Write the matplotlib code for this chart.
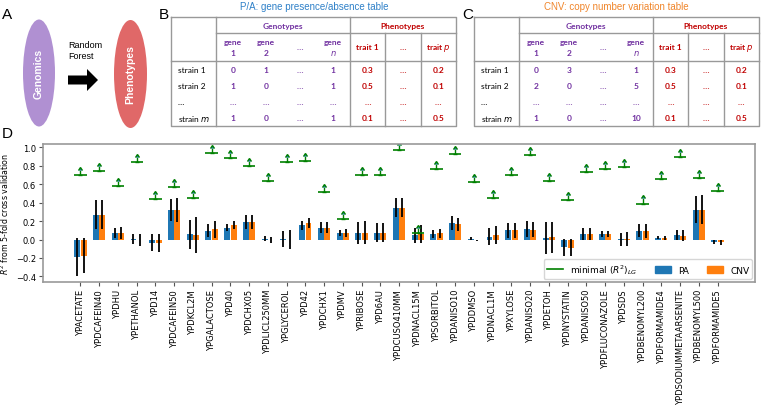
import numpy as np
import matplotlib.pyplot as plt
from matplotlib.patches import Ellipse, FancyArrow, Patch
from matplotlib.lines import Line2D

# ---- panel D data ----
conditions = ["YPACETATE", "YPDCAFEIN40", "YPDHU", "YPETHANOL", "YPD14", "YPDCAFEIN50",
              "YPDKCL2M", "YPGALACTOSE", "YPD40", "YPDCHX05", "YPDLICL250MM", "YPGLYCEROL",
              "YPD42", "YPDCHX1", "YPDMV", "YPRIBOSE", "YPD6AU", "YPDCUSO410MM", "YPDNACL15M",
              "YPSORBITOL", "YPDANISO10", "YPDDMSO", "YPDNACL1M", "YPXYLOSE", "YPDANISO20",
              "YPDETOH", "YPDNYSTATIN", "YPDANISO50", "YPDFLUCONAZOLE", "YPDSDS",
              "YPDBENOMYL200", "YPDFORMAMIDE4", "YPDSODIUMMETAARSENITE", "YPDBENOMYL500",
              "YPDFORMAMIDE5"]
lg_min = [0.70, 0.74, 0.575, 0.84, 0.44, 0.565, 0.45, 0.935, 0.88, 0.80,
          0.63, 0.835, 0.855, 0.515, 0.22, 0.70, 0.695, 0.97, 0.07, 0.765,
          0.93, 0.62, 0.45, 0.695, 0.92, 0.635, 0.43, 0.73, 0.765, 0.79,
          0.39, 0.66, 0.89, 0.67, 0.53]
pa_mean = [-0.19, 0.27, 0.07, 0.005, -0.035, 0.32, 0.055, 0.095, 0.13, 0.19,
           0.01, 0.005, 0.155, 0.13, 0.07, 0.075, 0.075, 0.345, 0.045, 0.058,
           0.18, 0.01, 0.03, 0.10, 0.115, 0.018, -0.085, 0.06, 0.06, 0.005,
           0.095, 0.02, 0.047, 0.325, -0.028]
pa_err = [0.21, 0.16, 0.05, 0.055, 0.09, 0.12, 0.155, 0.07, 0.04, 0.08,
          0.025, 0.085, 0.05, 0.06, 0.035, 0.12, 0.10, 0.10, 0.085, 0.045,
          0.08, 0.02, 0.09, 0.08, 0.085, 0.17, 0.09, 0.065, 0.03, 0.07,
          0.07, 0.015, 0.055, 0.15, 0.025]
cnv_mean = [-0.175, 0.27, 0.07, -0.005, -0.035, 0.32, 0.047, 0.11, 0.155, 0.19,
            -0.005, 0.0, 0.177, 0.13, 0.072, 0.075, 0.075, 0.345, 0.06, 0.068,
            0.165, -0.01, 0.05, 0.10, 0.108, 0.022, -0.087, 0.06, 0.06, 0.005,
            0.095, 0.02, 0.04, 0.325, -0.028]
cnv_err = [0.19, 0.16, 0.065, 0.06, 0.095, 0.125, 0.195, 0.09, 0.045, 0.075,
           0.03, 0.1, 0.055, 0.06, 0.045, 0.125, 0.105, 0.10, 0.1, 0.05,
           0.07, 0.01, 0.095, 0.08, 0.085, 0.165, 0.095, 0.06, 0.035, 0.08,
           0.075, 0.02, 0.06, 0.16, 0.027]

# ---- panel B / C table contents ----
gene_head = ["1", "2", "…", "$n$"]
trait_head = ["trait 1", "…", "trait $p$"]
row_labels = ["strain 1", "strain 2", "…", "strain $m$"]
pa_genes = [["0", "1", "…", "1"], ["1", "0", "…", "1"], ["…"] * 4, ["1", "0", "…", "1"]]
cnv_genes = [["0", "3", "…", "1"], ["2", "0", "…", "5"], ["…"] * 4, ["1", "0", "…", "10"]]
traits = [["0.3", "…", "0.2"], ["0.5", "…", "0.1"], ["…"] * 3, ["0.1", "…", "0.5"]]

PURPLE = "#7030a0"
RED = "#c00000"
TFONT = "Lato"
TS = 6

fig = plt.figure(figsize=(7.61, 4.10), dpi=100)

# overlay in pixel coordinates for panels A-C
ov = fig.add_axes([0, 0, 1, 1])
ov.set_xlim(0, 761)
ov.set_ylim(410, 0)
ov.axis("off")

for lab, (lx, ly) in zip("ABCD", [(2, 8), (159, 8), (462, 8), (2, 127)]):
    ov.text(lx, ly, lab, fontsize=11, family="Liberation Sans", va="top", ha="left")

# panel A
ov.add_patch(Ellipse((39, 74), 32, 107, color="#b090d2", lw=0))
ov.add_patch(Ellipse((130.5, 75), 33, 108, color="#e06868", lw=0))
ov.text(39, 74, "Genomics", color="white", rotation=90, ha="center", va="center",
        fontsize=7.5, fontweight="bold", family="Liberation Sans")
ov.text(130.5, 75, "Phenotypes", color="white", rotation=90, ha="center", va="center",
        fontsize=7.5, fontweight="bold", family="Liberation Sans")
ov.text(68, 41, "Random\nForest", fontsize=6.5, ha="left", va="top",
        family="Liberation Sans", linespacing=1.3)
ov.add_patch(FancyArrow(68, 81, 30, 0, width=9, head_width=22, head_length=11,
                        length_includes_head=True, color="black", lw=0))


def draw_table(x0, title, tcolor, tx, genes):
    widths = [45, 134, 35.3, 35.3, 35.3]
    xs = x0 + np.concatenate([[0], np.cumsum(widths)])
    top, mid, hdr, bot = 18, 34, 62, 127
    kw = dict(color="#999999", lw=1.0)
    ov.plot([xs[0], xs[-1], xs[-1], xs[0], xs[0]], [top, top, bot, bot, top], **kw)
    ov.plot([xs[1], xs[1]], [top, bot], **kw)
    ov.plot([xs[2], xs[2]], [top, bot], **kw)
    for xv in xs[3:5]:
        ov.plot([xv, xv], [mid, bot], **kw)
    ov.plot([xs[1], xs[-1]], [mid, mid], **kw)
    ov.plot([xs[0], xs[-1]], [hdr, hdr], **kw)
    ov.text(tx, 7, title, color=tcolor, fontsize=7, family="Liberation Sans",
            ha="center", va="center")
    bold = dict(fontsize=TS, family=TFONT, fontweight="bold", ha="center", va="center")
    ov.text((xs[1] + xs[2]) / 2, 26, "Genotypes", color=PURPLE, **bold)
    ov.text((xs[2] + xs[5]) / 2, 26, "Phenotypes", color=RED, **bold)
    gx = xs[1] + (np.arange(4) + 0.5) * widths[1] / 4
    px = (xs[2:5] + xs[3:6]) / 2
    for g, h in zip(gx, gene_head):
        if h == "…":
            ov.text(g, 48, h, color=PURPLE, **bold)
        else:
            ov.text(g, 43, "gene", color=PURPLE, **bold)
            ov.text(g, 53, h, color=PURPLE, **bold)
    for p, h in zip(px, trait_head):
        ov.text(p, 48, h, color=RED, **bold)
    rh = (bot - hdr) / 4
    for i in range(4):
        ry = hdr + (i + 0.5) * rh
        ov.text(xs[0] + 7, ry, row_labels[i], fontsize=TS, family=TFONT,
                ha="left", va="center")
        for g, v in zip(gx, genes[i]):
            ov.text(g, ry, v, color=PURPLE, **bold)
        for p, v in zip(px, traits[i]):
            ov.text(p, ry, v, color=RED, **bold)


draw_table(171, "P/A: gene presence/absence table", "#2e80c8", 314, pa_genes)
draw_table(474, "CNV: copy number variation table", "#f0852a", 616, cnv_genes)

# ---- panel D ----
ax = fig.add_axes([43 / 761, 1 - 283 / 410, 712 / 761, 138.5 / 410])
x = np.arange(len(conditions))
w = 0.32
err_kw = dict(ecolor="black", elinewidth=1.3, capsize=0)
ax.bar(x - 0.17, pa_mean, w, yerr=pa_err, color="#1f77b4", error_kw=err_kw)
ax.bar(x + 0.17, cnv_mean, w, yerr=cnv_err, color="#ff7f0e", error_kw=err_kw)
ax.hlines(lg_min, x - 0.33, x + 0.33, color="green", lw=1.2)
ax.errorbar(x, lg_min, yerr=0.055, lolims=True, fmt="none", ecolor="green",
            elinewidth=1.0, capsize=1.5)

ax.set_xlim(-2, 36)
ax.set_ylim(-0.46, 1.04)
ax.set_xticks(x)
ax.set_xticklabels(conditions, rotation=90, fontsize=6)
ax.set_yticks(np.arange(-0.4, 1.01, 0.2))
ax.tick_params(axis="y", labelsize=6, pad=2)
ax.tick_params(axis="x", pad=2)
ax.tick_params(color="#555555", length=3)
ax.set_ylabel("$R^2$ from 5-fold cross validation", fontsize=5.7)
ax.yaxis.set_label_coords(-0.045, 0.5)
for s in ax.spines.values():
    s.set_color("#999999")
    s.set_linewidth(1.2)

handles = [Line2D([], [], color="green", lw=1.2),
           Patch(color="#1f77b4"), Patch(color="#ff7f0e")]
ax.legend(handles, ["minimal $(R^2)_{LG}$", "PA", "CNV"], ncol=3, loc="lower right",
          fontsize=6.5, borderaxespad=0.3, handlelength=1.8, columnspacing=1.9,
          borderpad=0.35)

fig.savefig("out.png", dpi=100)
